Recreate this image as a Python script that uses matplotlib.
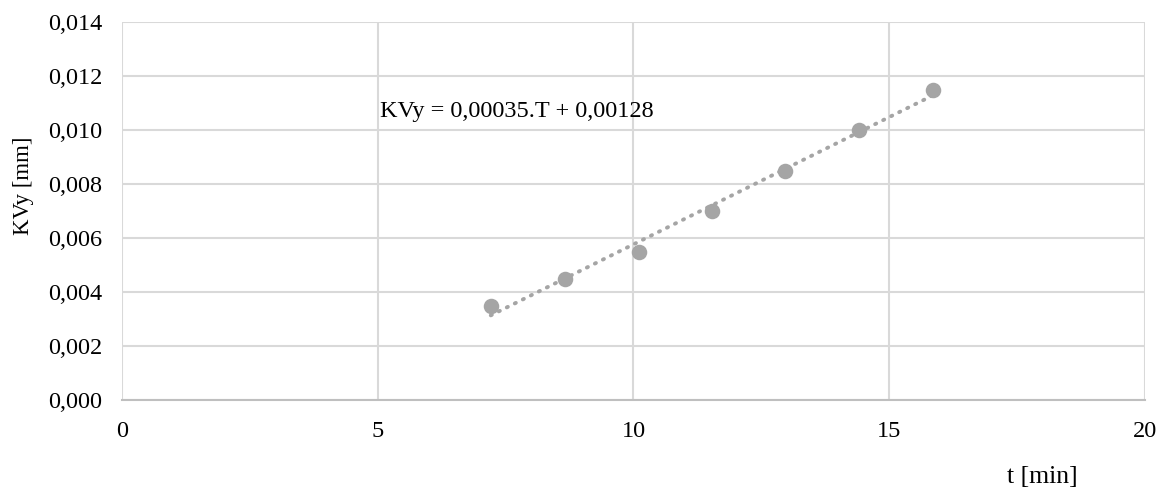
import numpy as np
import matplotlib.pyplot as plt

plt.rcParams['font.family'] = ['Liberation Serif', 'DejaVu Serif']

t_min = [7.21, 8.67, 10.1, 11.54, 12.97, 14.41, 15.86]
kvy = [0.0035, 0.0045, 0.0055, 0.0070, 0.0085, 0.0100, 0.0115]
xticks = [0, 5, 10, 15, 20]
yticks = [0.000, 0.002, 0.004, 0.006, 0.008, 0.010, 0.012, 0.014]
eq_text = "KVy = 0,00035.T + 0,00128"

fig = plt.figure(figsize=(11.63, 4.9), dpi=100)
ax = fig.add_axes([0.1049, 0.1837, 0.8796, 0.7713])

# trendline from a linear fit of the points
k, q = np.polyfit(t_min, kvy, 1)
xs = np.array([t_min[0], t_min[-1]])
ax.plot(xs, k * xs + q, color='#A5A5A5', lw=2.8, ls=(0, (0.3, 2.0)),
        dash_capstyle='round', zorder=2)
ax.scatter(t_min, kvy, s=125, color='#A5A5A5', zorder=3, linewidths=0)

ax.text(5.05, 0.0107, eq_text, fontsize=17.5, va='center', ha='left')

ax.set_xlim(0, 20)
ax.set_ylim(0, 0.014)
ax.set_xticks(xticks)
ax.set_yticks(yticks)
ax.set_xticklabels([str(v) for v in xticks])
ax.set_yticklabels([f"{v:.3f}".replace('.', ',') for v in yticks])
ax.tick_params(length=0, labelsize=17.5)
ax.tick_params(axis='x', pad=15)
ax.tick_params(axis='y', pad=14)
ax.grid(True, color='#D9D9D9', lw=1.5)
ax.set_axisbelow(True)
for s in ['top', 'right', 'left']:
    ax.spines[s].set_visible(False)
ax.spines['bottom'].set_color('#BFBFBF')
ax.spines['bottom'].set_linewidth(1.5)

fig.text(0.020, 0.62, "KVy [mm]", rotation=90, fontsize=16.5, ha='center', va='center')
fig.text(0.896, 0.026, "t [min]", fontsize=18.5, ha='center', va='center')

fig.savefig('out.png', dpi=100)
